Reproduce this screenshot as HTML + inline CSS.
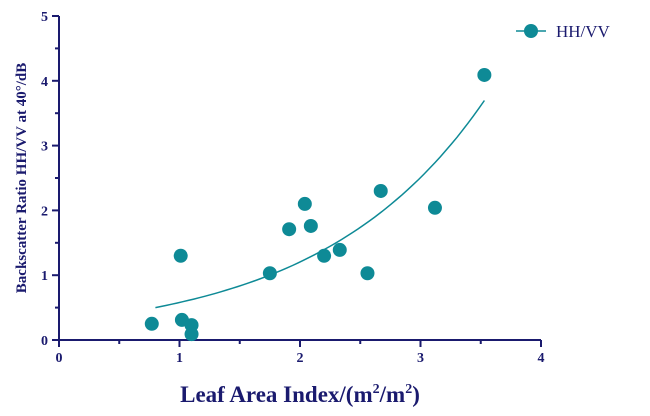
<!DOCTYPE html>
<html><head><meta charset="utf-8"><style>
html,body{margin:0;padding:0;background:#fff;}
svg{display:block;font-family:"Liberation Serif",serif;}
</style></head><body>
<svg id="chart" width="650" height="416">
<g id="axes"></g>
<g id="marks"></g>
<text x="300" y="402" text-anchor="middle" font-size="23" font-weight="bold" fill="#1a1a6e">Leaf Area Index/(m<tspan font-size="14" dy="-9">2</tspan><tspan dy="9">/m</tspan><tspan font-size="14" dy="-9">2</tspan><tspan dy="9">)</tspan></text>
<text transform="translate(26,178) rotate(-90)" text-anchor="middle" font-size="15" font-weight="bold" fill="#1a1a6e">Backscatter Ratio HH/VV at 40°/dB</text>
<g>
<line x1="516" y1="31" x2="546" y2="31" stroke="#0e8a96" stroke-width="1.5"/>
<circle cx="531" cy="31" r="7" fill="#0e8a96"/>
<text x="556" y="37" font-size="17" fill="#1a1a6e">HH/VV</text>
</g>
</svg>
<script>
const xTicks=[0,1,2,3,4];
const yTicks=[0,1,2,3,4,5];
const lai=[0.77,1.01,1.02,1.10,1.10,1.75,1.91,2.04,2.09,2.20,2.33,2.56,2.67,3.12,3.53];
const ratio=[0.25,1.30,0.31,0.23,0.09,1.03,1.71,2.10,1.76,1.30,1.39,1.03,2.30,2.04,4.09];
const fitA=0.278, fitB=0.733, fitRange=[0.8,3.53];
const NS="http://www.w3.org/2000/svg";
const X=v=>59+v*120.5, Y=v=>340-v*64.8;
const axes=document.getElementById('axes'), marks=document.getElementById('marks');
function mk(tag,attrs,parent){const e=document.createElementNS(NS,tag);for(const k in attrs)e.setAttribute(k,attrs[k]);parent.appendChild(e);return e;}
const C="#1a1a6e";
let l=mk('line',{x1:X(0),y1:Y(0),x2:X(4),y2:Y(0),stroke:C,'stroke-width':2},axes);


l=mk('line',{x1:X(0),y1:Y(5),x2:X(0),y2:Y(0),stroke:C,'stroke-width':2},axes);


xTicks.forEach(t=>{
 const tk=mk('line',{x1:X(t),y1:Y(0),x2:X(t),y2:Y(0)+7,stroke:C,'stroke-width':2},axes);
 
 
 if(t<4){const m=mk('line',{x1:X(t+0.5),y1:Y(0),x2:X(t+0.5),y2:Y(0)+4,stroke:C,'stroke-width':2},axes);
 
 }
 const tx=mk('text',{x:X(t),y:Y(0)+22,'text-anchor':'middle','font-size':14,'font-weight':'bold',fill:C},axes);
 tx.textContent=t;
 
 
});
yTicks.forEach(t=>{
 const tk=mk('line',{x1:X(0)-7,y1:Y(t),x2:X(0),y2:Y(t),stroke:C,'stroke-width':2},axes);
 
 
 if(t<5){const m=mk('line',{x1:X(0)-4,y1:Y(t+0.5),x2:X(0),y2:Y(t+0.5),stroke:C,'stroke-width':2},axes);
 
 }
 const tx=mk('text',{x:X(0)-11,y:Y(t)+5,'text-anchor':'end','font-size':14,'font-weight':'bold',fill:C},axes);
 tx.textContent=t;
 
 
});
let d='';
for(let i=0;i<=60;i++){const x=fitRange[0]+(fitRange[1]-fitRange[0])*i/60;d+=(i?'L':'M')+X(x).toFixed(1)+','+Y(fitA*Math.exp(fitB*x)).toFixed(1);}
const p=mk('path',{d:d,fill:'none',stroke:'#0e8a96','stroke-width':1.5},marks);


lai.forEach((x,i)=>{
 const c=mk('circle',{cx:X(x),cy:Y(ratio[i]),r:7,fill:'#0e8a96'},marks);
 
 
});
</script>
</body></html>
